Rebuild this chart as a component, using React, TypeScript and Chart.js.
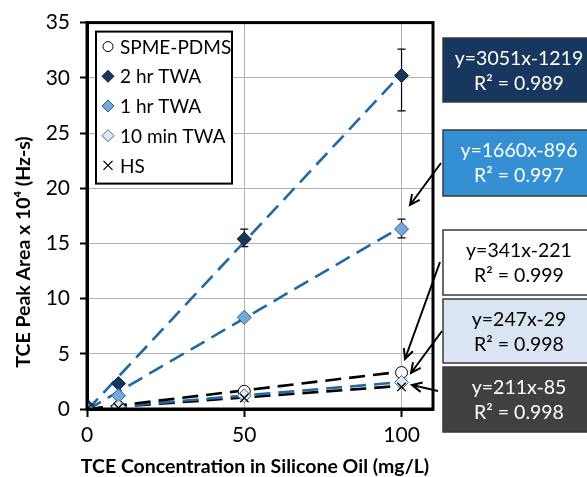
import { useEffect, useRef } from 'react';
import { Chart, registerables } from 'chart.js';

Chart.register(...registerables);

// ---- data ----
const concentrations = [0, 10, 50, 100];
const spmePdms = [0, 0.2, 1.6, 3.3];
const twa2hr = [0.3, 2.3, 15.4, 30.2];
const twa1hr = [0.1, 1.2, 8.3, 16.3];
const twa10min = [0.0, 0.2, 1.2, 2.4];
const headspace = [0.0, 0.1, 1.0, 2.0];

const err2hrLow = [null, null, 14.7, 27.0];
const err2hrHigh = [null, null, 16.3, 32.6];
const err1hrLow = [null, null, null, 15.5];
const err1hrHigh = [null, null, null, 17.2];

const trendX = [0, 100];
const trend2hr = [-0.12, 30.39];
const trend1hr = [-0.09, 16.51];
const trendSpme = [-0.02, 3.39];
const trend10min = [0.0, 2.44];
const trendHs = [-0.01, 2.1];

const xTickValues = [0, 50, 100];
const yTickValues = [0, 5, 10, 15, 20, 25, 30, 35];

const seriesLabels = ['SPME-PDMS', '2 hr TWA', '1 hr TWA', '10 min TWA', 'HS'];
const fitEquations = ['y=3051x-1219', 'y=1660x-896', 'y=341x-221', 'y=247x-29', 'y=211x-85'];
const fitR2 = ['R² = 0.989', 'R² = 0.997', 'R² = 0.999', 'R² = 0.998', 'R² = 0.998'];

const xTitle = 'TCE Concentration in Silicone Oil (mg/L)';
const yTitle = 'TCE Peak Area x 10⁴ (Hz-s)';

const FONT = 'Lato, "Open Sans", sans-serif';
const BLUE_TREND = '#1f6aa5';

const toPts = (xs: number[], ys: number[]) => xs.map((x, i) => ({ x, y: ys[i] }));

function drawMarker(ctx: CanvasRenderingContext2D, style: string, x: number, y: number, r: number, fill: string, stroke: string) {
  ctx.save();
  ctx.fillStyle = fill;
  ctx.strokeStyle = stroke;
  ctx.lineWidth = 1;
  ctx.beginPath();
  if (style === 'circle') {
    ctx.arc(x, y, r, 0, Math.PI * 2);
    ctx.fill();
    ctx.stroke();
  } else if (style === 'rectRot') {
    ctx.moveTo(x, y - r);
    ctx.lineTo(x + r, y);
    ctx.lineTo(x, y + r);
    ctx.lineTo(x - r, y);
    ctx.closePath();
    ctx.fill();
    ctx.stroke();
  } else {
    const d = r * 0.75;
    ctx.lineWidth = 1.3;
    ctx.moveTo(x - d, y - d);
    ctx.lineTo(x + d, y + d);
    ctx.moveTo(x + d, y - d);
    ctx.lineTo(x - d, y + d);
    ctx.stroke();
  }
  ctx.restore();
}

function drawArrow(ctx: CanvasRenderingContext2D, x1: number, y1: number, x2: number, y2: number) {
  const ang = Math.atan2(y2 - y1, x2 - x1);
  const h = 11;
  ctx.save();
  ctx.strokeStyle = '#000';
  ctx.lineWidth = 2;
  ctx.beginPath();
  ctx.moveTo(x1, y1);
  ctx.lineTo(x2, y2);
  ctx.moveTo(x2 - h * Math.cos(ang - 0.45), y2 - h * Math.sin(ang - 0.45));
  ctx.lineTo(x2, y2);
  ctx.lineTo(x2 - h * Math.cos(ang + 0.45), y2 - h * Math.sin(ang + 0.45));
  ctx.stroke();
  ctx.restore();
}

const decorPlugin = {
  id: 'decor',
  beforeDatasetsDraw(chart: any) {
    const { ctx, scales } = chart;
    const xs = scales.x, ys = scales.y;
    ctx.save();
    ctx.strokeStyle = '#000';
    ctx.lineWidth = 1.2;
    const bars: [any[], any[]][] = [[err2hrLow, err2hrHigh], [err1hrLow, err1hrHigh]];
    bars.forEach(([lo, hi]) => {
      concentrations.forEach((c, i) => {
        if (lo[i] == null || hi[i] == null) return;
        const px = xs.getPixelForValue(c);
        const y1 = ys.getPixelForValue(lo[i]);
        const y2 = ys.getPixelForValue(hi[i]);
        ctx.beginPath();
        ctx.moveTo(px, y1); ctx.lineTo(px, y2);
        ctx.moveTo(px - 4, y1); ctx.lineTo(px + 4, y1);
        ctx.moveTo(px - 4, y2); ctx.lineTo(px + 4, y2);
        ctx.stroke();
      });
    });
    ctx.restore();
  },
  afterDatasetsDraw(chart: any) {
    const { ctx, chartArea: ca } = chart;
    // frame
    ctx.save();
    ctx.strokeStyle = '#000';
    ctx.lineWidth = 3;
    ctx.strokeRect(ca.left, ca.top, ca.right - ca.left, ca.bottom - ca.top);
    ctx.restore();

    // legend
    const lx = ca.left + 9, ly = ca.top + 9, lw = 136, lh = 152;
    ctx.save();
    ctx.fillStyle = '#fff';
    ctx.fillRect(lx, ly, lw, lh);
    ctx.strokeStyle = '#000';
    ctx.lineWidth = 2;
    ctx.strokeRect(lx, ly, lw, lh);
    const markers = chart.data.datasets.filter((d: any) => !d.isTrend);
    markers.forEach((d: any, i: number) => {
      const cy = ly + 15 + i * 29.7;
      drawMarker(ctx, d.pointStyle, lx + 12, cy, d.pointStyle === 'circle' ? 5 : 6, d.pointBackgroundColor, d.pointBorderColor);
      ctx.fillStyle = '#000';
      ctx.font = `19px ${FONT}`;
      ctx.textBaseline = 'middle';
      ctx.textAlign = 'left';
      ctx.fillText(d.label, lx + 24, cy + 1);
    });
    ctx.restore();
  },
  afterDraw(chart: any) {
    const { ctx, chartArea: ca } = chart;
    // axis titles
    ctx.save();
    ctx.fillStyle = '#000';
    ctx.font = `bold 19.5px ${FONT}`;
    ctx.textAlign = 'center';
    ctx.textBaseline = 'middle';
    ctx.fillText(xTitle, 255, 467);
    ctx.translate(24, 252);
    ctx.rotate(-Math.PI / 2);
    ctx.fillText(yTitle, 0, 0);
    ctx.restore();

    // fit boxes
    const boxes = [
      { top: 38, h: 64, fill: '#17375e', text: '#fff' },
      { top: 130, h: 66, fill: '#3490d3', text: '#fff' },
      { top: 230, h: 65, fill: '#ffffff', text: '#000' },
      { top: 299, h: 64, fill: '#dbe5f1', text: '#000' },
      { top: 367, h: 65, fill: '#404040', text: '#fff' },
    ];
    const bx = ca.right + 10, bw = 152;
    ctx.save();
    boxes.forEach((b, i) => {
      ctx.fillStyle = b.fill;
      ctx.fillRect(bx, b.top, bw, b.h);
      ctx.strokeStyle = '#3a3a3a';
      ctx.lineWidth = 1.5;
      ctx.strokeRect(bx, b.top, bw, b.h);
      ctx.fillStyle = b.text;
      ctx.font = `19.5px ${FONT}`;
      ctx.textAlign = 'center';
      ctx.textBaseline = 'middle';
      ctx.fillText(fitEquations[i], bx + 76, b.top + 21);
      ctx.fillText(fitR2[i], bx + 76, b.top + 46);
    });
    ctx.restore();

    // arrows
    drawArrow(ctx, ca.right + 8, 163, ca.right - 23, 205);
    drawArrow(ctx, ca.right + 7, 262, ca.right - 28, 359);
    drawArrow(ctx, ca.right + 9, 331, ca.right - 22, 373);
    drawArrow(ctx, ca.right + 5, 391, ca.right - 21, 385);
  },
};

const markerStyles = [
  { style: 'circle', r: 6, fill: '#ffffff', stroke: '#000000' },
  { style: 'rectRot', r: 7, fill: '#17375e', stroke: '#0b1d33' },
  { style: 'rectRot', r: 7, fill: '#74a9da', stroke: '#2b5d8c' },
  { style: 'rectRot', r: 7, fill: '#dce8f4', stroke: '#4a6580' },
  { style: 'crossRot', r: 6, fill: '#000000', stroke: '#000000' },
];
const seriesValues = [spmePdms, twa2hr, twa1hr, twa10min, headspace];

const trendSeries = [
  { ys: trend2hr, color: BLUE_TREND },
  { ys: trend1hr, color: BLUE_TREND },
  { ys: trendSpme, color: '#000000' },
  { ys: trend10min, color: BLUE_TREND },
  { ys: trendHs, color: '#000000' },
];

export default function App() {
  const ref = useRef<HTMLCanvasElement | null>(null);
  useEffect(() => {
    if (!ref.current) return;
    const datasets: any[] = [];
    trendSeries.forEach((t, i) => {
      datasets.push({
        label: 'trend' + i,
        isTrend: true,
        data: toPts(trendX, t.ys),
        showLine: true,
        borderColor: t.color,
        borderWidth: 2.6,
        borderDash: [16, 8],
        pointRadius: 0,
        order: 10,
      });
    });
    seriesValues.forEach((vals, i) => {
      const m = markerStyles[i];
      datasets.push({
        label: seriesLabels[i],
        data: toPts(concentrations, vals),
        pointStyle: m.style,
        pointRadius: m.r,
        pointBackgroundColor: m.fill,
        pointBorderColor: m.stroke,
        pointBorderWidth: m.style === 'crossRot' ? 1.3 : 1,
        backgroundColor: m.fill,
        borderColor: m.stroke,
        showLine: false,
        order: 5 - i,
      });
    });
    const chart = new Chart(ref.current, {
      type: 'scatter',
      data: { datasets },
      plugins: [decorPlugin],
      options: {
        animation: false,
        responsive: false,
        layout: { padding: { top: 20, right: 154, left: 0, bottom: 0 } },
        plugins: { legend: { display: false }, tooltip: { enabled: false } },
        scales: {
          x: {
            type: 'linear',
            min: 0,
            max: 110,
            afterBuildTicks: (s: any) => { s.ticks = xTickValues.map((v) => ({ value: v })); },
            afterFit: (s: any) => { s.height = 68; },
            ticks: { color: '#000', font: { family: FONT, size: 21 }, padding: 6 },
            grid: { color: '#b3b3b3', lineWidth: 1, tickColor: '#000', tickWidth: 2, tickLength: 8 },
            border: { color: '#000', width: 3 },
          },
          y: {
            type: 'linear',
            min: 0,
            max: 35,
            afterBuildTicks: (s: any) => { s.ticks = yTickValues.map((v) => ({ value: v })); },
            afterFit: (s: any) => { s.width = 87; },
            ticks: { color: '#000', font: { family: FONT, size: 21 }, padding: 10 },
            grid: { color: '#b3b3b3', lineWidth: 1, tickColor: '#000', tickWidth: 2, tickLength: 7 },
            border: { color: '#000', width: 3 },
          },
        },
      } as any,
    });
    return () => chart.destroy();
  }, []);
  return (
    <div style={{ position: 'absolute', left: 0, top: 0, width: 587, height: 477, background: '#fff' }}>
      <canvas ref={ref} width={587} height={477} style={{ display: 'block' }} />
    </div>
  );
}
